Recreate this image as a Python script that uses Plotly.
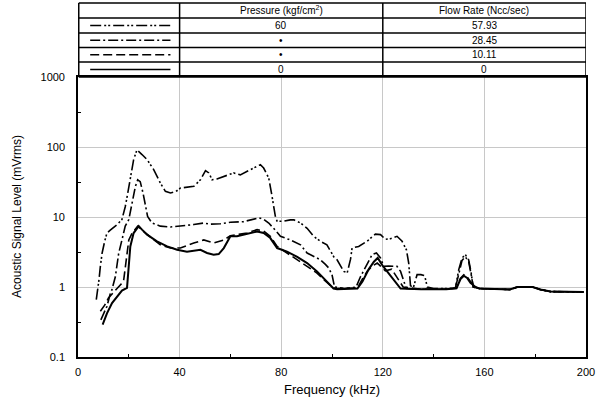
import plotly.graph_objects as go

# ---------------- data ----------------
labels_pressure = ["60", "•", "•", "0"]
labels_flow = ["57.93", "28.45", "10.11", "0"]

freq_a = [7.2, 7.8, 8.3, 8.8, 9.5, 10.5, 11.4, 12.7, 14.0, 15.4, 17.3, 18.6, 19.6, 20.6, 21.9, 23.2, 24.2, 25.2,
          27.2, 29.8, 32.4, 34.4, 36.4, 38.5, 40.3, 43.0, 45.6, 48.2, 50.2, 51.5, 52.8, 54.7, 57.4, 59.5, 61.3,
          63.9, 66.6, 69.8, 71.8, 73.1, 75.1, 76.4, 77.7, 78.4, 81.0, 83.6, 85.0, 87.6, 90.2, 92.8, 95.4, 98.0,
          99.4, 100.7, 102.0, 104.6, 106.0, 107.3, 107.9, 110.5, 113.8, 117.1, 119.1, 121.0, 123.0, 125.6, 127.6,
          129.3, 130.2, 130.9, 132.0, 133.5, 135.0, 136.5, 137.5, 140, 145, 148.6, 149.9, 151.2, 152.5, 153.8,
          154.8, 155.6, 158, 165, 170, 173, 179, 182, 186, 199.1]
level_a = [0.66, 0.9, 1.3, 1.97, 3.06, 4.5, 5.9, 6.5, 7.0, 7.8, 9.2, 14, 22, 34, 66, 91, 85, 78,
           66, 47.6, 30.7, 23.3, 22, 23, 25.9, 26.5, 27.4, 34, 46, 42.6, 34, 35, 38, 40, 42.6,
           40, 45, 51.6, 56, 50, 36, 19.7, 10.2, 8.7, 8.7, 9.1, 9.1, 8.2, 6.9, 5.3, 4.5, 4.0,
           3.3, 2.7, 2.45, 1.67, 1.6, 2.5, 3.6, 3.8, 4.5, 5.7, 5.6, 4.8, 4.9, 5.3, 4.5,
           3.4, 2.2, 1.05, 0.97, 1.5, 1.5, 1.45, 1.0, 0.95, 0.95, 0.97, 1.77, 2.6, 2.9, 2.45,
           1.58, 1.0, 0.95, 0.93, 0.92, 1.0, 1.0, 0.92, 0.86, 0.85]

freq_b = [9.0, 10.5, 11.4, 12.7, 13.3, 14.7, 16.0, 17.3, 18.6, 20.0, 21.3, 22.6, 23.5, 24.5, 25.6, 26.5, 27.4,
          29.1, 32.4, 36.4, 40.3, 45.6, 49.5, 52.1, 56.0, 60.0, 65.2, 69.2, 71.2, 73.1, 75.1, 77.0, 79.7, 83.6,
          87.6, 90.2, 92.8, 95.4, 97.4, 98.7, 100.0, 101.0, 105, 109.5, 111.2, 113.8, 115.8, 117.5, 119.1, 120.4,
          122.3, 125.6, 127.0, 128.3, 129.3, 135, 145, 148.6, 149.9, 151.2, 152.5, 153.8, 154.8, 155.6, 158,
          165, 170, 173, 179, 182, 186, 199.1]
level_b = [0.34, 0.45, 0.53, 0.8, 0.9, 1.4, 3.0, 4.7, 7.4, 9.2, 15.8, 27.4, 34, 32, 22, 14.2, 10.2,
           8.2, 7.4, 7.2, 7.4, 7.8, 8.2, 7.9, 8.0, 8.4, 8.6, 9.2, 9.7, 9.3, 8.2, 6.9, 5.3, 4.7,
           4.0, 3.06, 2.7, 2.45, 2.1, 1.87, 1.5, 1.0, 0.95, 1.0, 1.4, 2.1, 2.9, 3.06, 2.6, 1.97,
           2.0, 1.97, 1.67, 1.2, 0.95, 0.93, 0.93, 0.97, 1.6, 2.4, 2.7, 2.3, 1.5, 1.0, 0.95,
           0.93, 0.92, 1.0, 1.0, 0.92, 0.86, 0.85]

freq_c = [8.8, 10.5, 12.0, 14.0, 15.5, 17.0, 18.0, 19.0, 20.0, 21.3, 23.5, 25.9, 29.1, 32.4, 36.4, 40.3, 45.6,
          49.5, 53.4, 57.4, 60.0, 66.6, 70.5, 73.1, 75.7, 78.4, 82.3, 86.3, 90.2, 94.1, 97.0, 100.0, 101.4, 105,
          110.0, 112.0, 114.0, 116.0, 117.8, 119.0, 121.0, 123.5, 126.0, 128.0, 135, 145, 149, 150.6, 151.9,
          153.2, 154.5, 156.5, 158, 165, 170, 173, 179, 182, 186, 199.1]
level_c = [0.45, 0.55, 0.7, 0.85, 0.95, 1.1, 1.27, 2.5, 4.7, 5.9, 7.4, 6.2, 5.0, 4.0, 3.6, 3.6, 4.25,
           4.7, 4.25, 4.7, 5.4, 5.9, 6.6, 6.3, 5.3, 3.8, 3.06, 2.45, 1.97, 1.58, 1.25, 1.0, 0.95, 0.95,
           0.97, 1.3, 1.7, 2.0, 2.2, 2.0, 1.7, 1.8, 1.3, 1.0, 0.93, 0.93, 0.96, 1.34, 1.5,
           1.4, 1.2, 1.0, 0.95, 0.93, 0.92, 1.0, 1.0, 0.92, 0.86, 0.85]

freq_d = [9.7, 11.4, 13.4, 15.4, 17.3, 19.3, 20.0, 20.6, 21.9, 23.9, 25.2, 27.2, 31.1, 35.1, 39.0, 42.9, 48.2,
          50.8, 53.4, 55.4, 57.4, 60.0, 62.6, 66.6, 70.5, 73.1, 75.7, 78.4, 82.3, 86.3, 90.2, 94.1, 97.0, 100.6,
          102, 106, 110, 112, 114.5, 116.5, 118.0, 120.0, 122.0, 124.0, 126.0, 127.0, 135, 145, 149, 150.6,
          151.9, 153.2, 154.5, 156.5, 158, 165, 170, 173, 179, 182, 186, 199.1]
level_d = [0.29, 0.42, 0.59, 0.73, 0.89, 0.97, 2.0, 3.8, 5.9, 7.4, 6.6, 5.6, 4.5, 3.8, 3.4, 3.2, 3.4,
           3.06, 2.9, 2.95, 3.6, 5.3, 5.3, 5.8, 6.2, 5.9, 5.0, 3.6, 3.2, 2.7, 2.2, 1.67, 1.3, 0.95,
           0.93, 0.93, 0.95, 1.2, 1.8, 2.3, 2.6, 2.0, 1.6, 1.3, 1.05, 0.95, 0.93, 0.93, 0.96, 1.3,
           1.45, 1.35, 1.15, 1.0, 0.95, 0.93, 0.92, 1.0, 1.0, 0.92, 0.86, 0.85]

x_ticks = [0, 40, 80, 120, 160, 200]
y_ticks = [0.1, 1, 10, 100, 1000]
y_ticktext = ["0.1", "1", "10", "100", "1000"]

# ---------------- styles ----------------
FONT = "Liberation Sans, Arial, sans-serif"
dashes = ["11px,3px,2px,2px,2px,3px", "10px,3px,2px,3px", "9px,4px", "solid"]
widths = [1.6, 1.6, 1.6, 2.0]
series = [(freq_a, level_a), (freq_b, level_b), (freq_c, level_c), (freq_d, level_d)]

fig = go.Figure()
for (fx, fy), dsh, w, lab in zip(series, dashes, widths, labels_flow):
    fig.add_trace(go.Scatter(x=fx, y=fy, mode="lines", name=lab,
                             line=dict(color="black", width=w, dash=dsh),
                             showlegend=False))

fig.update_layout(
    width=596, height=403,
    margin=dict(l=78, r=10, t=77, b=46, autoexpand=False),
    paper_bgcolor="white", plot_bgcolor="white",
    font=dict(family=FONT, color="black", size=11),
)
fig.update_xaxes(
    range=[0, 200], tickvals=x_ticks, ticks="", showgrid=True, gridcolor="#c8c8c8", gridwidth=1,
    showline=True, linecolor="black", linewidth=1.6, mirror=True, zeroline=False, automargin=False,
    ticklabelstandoff=4, tickfont=dict(size=11),
    minor=dict(tickvals=[20, 60, 100, 140, 180], ticks="inside", ticklen=3, tickcolor="black", showgrid=False),
)
fig.update_yaxes(
    type="log", range=[-1, 3], tickvals=y_ticks, ticktext=y_ticktext, ticks="",
    showgrid=True, gridcolor="#c8c8c8", gridwidth=1, automargin=False,
    showline=True, linecolor="black", linewidth=1.6, mirror=True, zeroline=False,
    ticklabelstandoff=9, tickfont=dict(size=11),
    minor=dict(tickvals=[0.316, 3.16, 31.6, 316], ticks="inside", ticklen=3, tickcolor="black", showgrid=False),
)

# axis titles
fig.add_annotation(text="Frequency (kHz)", xref="paper", yref="paper", x=0.5, y=-0.115,
                   xanchor="center", yanchor="middle", showarrow=False, font=dict(size=13))
fig.add_annotation(text="Acoustic Signal Level (mVrms)", xref="paper", yref="paper", x=-0.12, y=0.5,
                   xanchor="center", yanchor="middle", textangle=-90, showarrow=False, font=dict(size=12))

# ---------------- table above plot ----------------
row_edges = [1.264, 1.211, 1.157, 1.105, 1.054, 1.0]
col_edges = [0.3, 40, 120, 200]
shapes = []
for ye in row_edges:
    shapes.append(dict(type="line", xref="x", yref="paper", x0=col_edges[0], x1=col_edges[-1], y0=ye, y1=ye,
                       line=dict(color="black", width=1.5)))
for xe in col_edges:
    shapes.append(dict(type="line", xref="x", yref="paper", x0=xe, x1=xe, y0=row_edges[-1], y1=row_edges[0],
                       line=dict(color="black", width=1.5)))
for i, dsh in enumerate(dashes):
    yc = (row_edges[i + 1] + row_edges[i + 2]) / 2
    shapes.append(dict(type="line", xref="x", yref="paper", x0=4.8, x1=36.4, y0=yc, y1=yc,
                       line=dict(color="black", width=1.5, dash=dsh)))
fig.update_layout(shapes=shapes)

hdr_y = (row_edges[0] + row_edges[1]) / 2
fig.add_annotation(text="Pressure (kgf/cm<sup>2</sup>)", xref="x", yref="paper", x=80, y=hdr_y,
                   showarrow=False, font=dict(size=10), yanchor="middle")
fig.add_annotation(text="Flow Rate (Ncc/sec)", xref="x", yref="paper", x=160, y=hdr_y,
                   showarrow=False, font=dict(size=10), yanchor="middle")
for i in range(4):
    yc = (row_edges[i + 1] + row_edges[i + 2]) / 2
    fig.add_annotation(text=labels_pressure[i], xref="x", yref="paper", x=80, y=yc,
                       showarrow=False, font=dict(size=10), yanchor="middle")
    fig.add_annotation(text=labels_flow[i], xref="x", yref="paper", x=160, y=yc,
                       showarrow=False, font=dict(size=10), yanchor="middle")

fig.write_html("out.html", config={"displayModeBar": False},
               post_script="document.body.style.margin='0';document.body.style.overflow='hidden';")
